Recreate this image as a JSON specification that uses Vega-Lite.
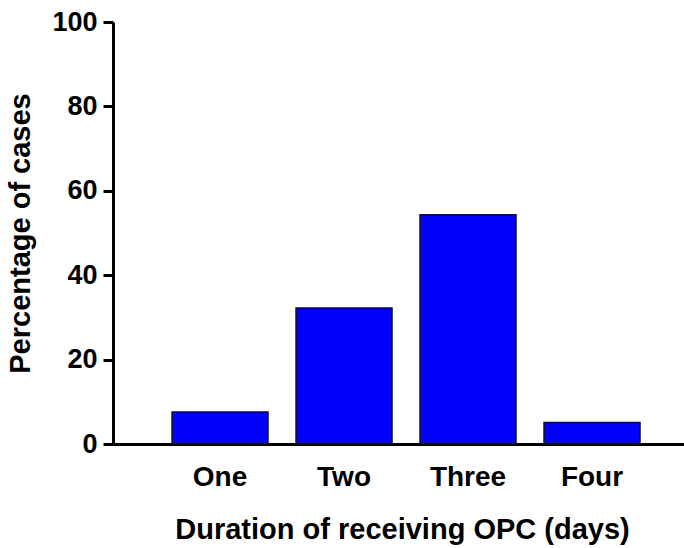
{
  "$schema": "https://vega.github.io/schema/vega-lite/v6.json",
  "width": 571,
  "height": 422,
  "autosize": {"type": "none"},
  "padding": {"left": 113, "top": 22, "right": 0, "bottom": 104},
  "background": "white",
  "config": {
    "view": {"stroke": null},
    "font": "Liberation Sans"
  },
  "data": {
    "values": [
      {"duration": "One", "percent": 7.6},
      {"duration": "Two", "percent": 32.2},
      {"duration": "Three", "percent": 54.3},
      {"duration": "Four", "percent": 5.1}
    ]
  },
  "mark": {"type": "bar", "color": "#0000FF", "stroke": "#111111", "strokeWidth": 1.5},
  "encoding": {
    "x": {
      "field": "duration",
      "type": "nominal",
      "sort": ["One", "Two", "Three", "Four"],
      "scale": {"paddingInner": 0.226, "paddingOuter": 0.4155, "align": 0.573},
      "axis": {
        "title": "Duration of receiving OPC (days)",
        "labelAngle": 0,
        "labelFont": "Liberation Sans",
        "labelFontSize": 28,
        "labelFontWeight": "bold",
        "labelColor": "black",
        "labelPadding": 19,
        "ticks": false,
        "domainColor": "black",
        "domainWidth": 3,
        "titleFont": "Liberation Sans",
        "titleFontSize": 29,
        "titleFontWeight": "bold",
        "titleColor": "black",
        "titlePadding": 24,
        "titleX": 289,
        "titleAnchor": "middle"
      }
    },
    "y": {
      "field": "percent",
      "type": "quantitative",
      "scale": {"domain": [0, 100], "nice": false},
      "axis": {
        "title": "Percentage of cases",
        "values": [0, 20, 40, 60, 80, 100],
        "grid": false,
        "labelFont": "Liberation Sans",
        "labelFontSize": 27,
        "labelFontWeight": "bold",
        "labelColor": "black",
        "labelPadding": 6,
        "tickSize": 10,
        "tickWidth": 3,
        "tickColor": "black",
        "domainColor": "black",
        "domainWidth": 3,
        "titleFont": "Liberation Sans",
        "titleFontSize": 29,
        "titleFontWeight": "bold",
        "titleColor": "black",
        "titlePadding": 16
      }
    }
  }
}
